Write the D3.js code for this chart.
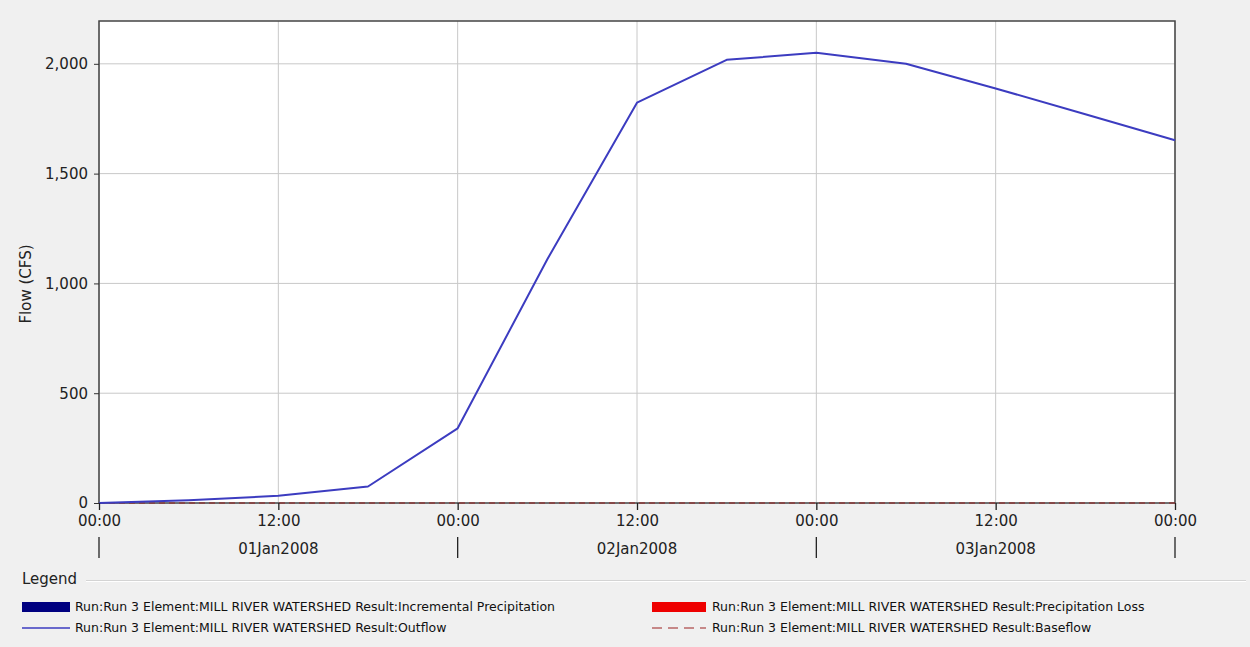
<!DOCTYPE html>
<html>
<head>
<meta charset="utf-8">
<script src="https://cdn.jsdelivr.net/npm/d3@7"></script>
<style>
  html, body { margin: 0; padding: 0; background: #f0f0f0; }
  svg { display: block; }
</style>
</head>
<body>
<svg id="chart" width="1250" height="647"></svg>
<script>
// ---- data ----
const timeStamps = [
  "2008-01-01T00:00", "2008-01-01T06:00", "2008-01-01T12:00", "2008-01-01T18:00",
  "2008-01-02T00:00", "2008-01-02T06:00", "2008-01-02T12:00", "2008-01-02T18:00",
  "2008-01-03T00:00", "2008-01-03T06:00", "2008-01-03T12:00", "2008-01-03T18:00",
  "2008-01-04T00:00"
];
const outflowCFS = [0, 12, 33, 75, 340, 1110, 1823, 2018, 2050, 2000, 1888, 1770, 1652];
const baseflowCFS = [0, 0, 0, 0, 0, 0, 0, 0, 0, 0, 0, 0, 0];
const yTickValues = [0, 500, 1000, 1500, 2000];
const dayLabels = ["01Jan2008", "02Jan2008", "03Jan2008"];
const legendItems = [
  "Run:Run 3 Element:MILL RIVER WATERSHED Result:Incremental Precipitation",
  "Run:Run 3 Element:MILL RIVER WATERSHED Result:Precipitation Loss",
  "Run:Run 3 Element:MILL RIVER WATERSHED Result:Outflow",
  "Run:Run 3 Element:MILL RIVER WATERSHED Result:Baseflow"
];
const yAxisTitle = "Flow (CFS)";

// ---- layout ----
const plot = { left: 99, right: 1175, top: 21, bottom: 503 };
const parse = d3.utcParse("%Y-%m-%dT%H:%M");
const times = timeStamps.map(parse);

const svg = d3.select("#chart");
const x = d3.scaleUtc()
  .domain([parse("2008-01-01T00:00"), parse("2008-01-04T00:00")])
  .range([plot.left, plot.right]);
const y = d3.scaleLinear().domain([0, 2195]).range([plot.bottom, plot.top]);

const font = "'DejaVu Sans', Verdana, sans-serif";

// plot background
svg.append("rect")
  .attr("x", plot.left).attr("y", plot.top)
  .attr("width", plot.right - plot.left).attr("height", plot.bottom - plot.top)
  .attr("fill", "#ffffff");

// grid
const xGridTicks = d3.utcHour.every(12).range(x.domain()[0], d3.utcHour.offset(x.domain()[1], 1));
svg.append("g").selectAll("line").data(xGridTicks).join("line")
  .attr("x1", d => x(d)).attr("x2", d => x(d))
  .attr("y1", plot.top).attr("y2", plot.bottom)
  .attr("stroke", "#c8c8c8").attr("stroke-width", 1);
svg.append("g").selectAll("line").data(yTickValues.filter(v => v > 0)).join("line")
  .attr("x1", plot.left).attr("x2", plot.right)
  .attr("y1", d => y(d)).attr("y2", d => y(d))
  .attr("stroke", "#c8c8c8").attr("stroke-width", 1);

// frame
svg.append("rect")
  .attr("x", plot.left).attr("y", plot.top)
  .attr("width", plot.right - plot.left).attr("height", plot.bottom - plot.top)
  .attr("fill", "none").attr("stroke", "#444").attr("stroke-width", 1.5);

// series
const line = d3.line().x((d, i) => x(times[i])).y(d => y(d));
svg.append("path").datum(baseflowCFS)
  .attr("d", line).attr("fill", "none")
  .attr("stroke", "#9b2020").attr("stroke-width", 1.2).attr("stroke-dasharray", "6,4");
svg.append("path").datum(outflowCFS)
  .attr("d", line).attr("fill", "none")
  .attr("stroke", "#3c3cc0").attr("stroke-width", 2).attr("stroke-linejoin", "round");

// y axis
const yAxis = d3.axisLeft(y).tickValues(yTickValues).tickFormat(d3.format(",")).tickSize(5).tickPadding(6);
const gy = svg.append("g").attr("transform", `translate(${plot.left},0)`).call(yAxis);
gy.select(".domain").remove();
gy.selectAll(".tick line").attr("stroke", "#333");
gy.selectAll("text").attr("font-family", font).attr("font-size", 15).attr("fill", "#222");

svg.append("text")
  .attr("transform", `translate(31,${(plot.top + plot.bottom) / 2 + 22}) rotate(-90)`)
  .attr("text-anchor", "middle")
  .attr("font-family", font).attr("font-size", 15).attr("fill", "#222")
  .text(yAxisTitle);

// x axis
const xAxis = d3.axisBottom(x).tickValues(xGridTicks).tickFormat(d3.utcFormat("%H:%M")).tickSize(7).tickPadding(5);
const gx = svg.append("g").attr("transform", `translate(0,${plot.bottom})`).call(xAxis);
gx.select(".domain").remove();
gx.selectAll(".tick line").attr("stroke", "#222").attr("stroke-width", 1.3);
gx.selectAll("text").attr("font-family", font).attr("font-size", 15).attr("fill", "#222");

// day separators and labels
const midnights = d3.utcDay.range(x.domain()[0], d3.utcHour.offset(x.domain()[1], 1));
svg.append("g").selectAll("line").data(midnights).join("line")
  .attr("x1", d => x(d)).attr("x2", d => x(d))
  .attr("y1", 537).attr("y2", 558)
  .attr("stroke", "#222").attr("stroke-width", 1.3);
svg.append("g").selectAll("text").data(dayLabels).join("text")
  .attr("x", (d, i) => x(d3.utcHour.offset(midnights[i], 12)))
  .attr("y", 554)
  .attr("text-anchor", "middle")
  .attr("font-family", font).attr("font-size", 15).attr("fill", "#222")
  .text(d => d);

// legend
const lg = svg.append("g");
lg.append("line").attr("x1", 86).attr("x2", 1246).attr("y1", 580.5).attr("y2", 580.5)
  .attr("stroke", "#d4d4d4");
lg.append("line").attr("x1", 86).attr("x2", 1246).attr("y1", 581.5).attr("y2", 581.5)
  .attr("stroke", "#ffffff");
lg.append("text").attr("x", 22).attr("y", 584)
  .attr("font-family", font).attr("font-size", 15).attr("fill", "#222").text("Legend");

const rowY = [607, 628];
const cols = [{ x: 22, w: 48, gap: 53 }, { x: 652, w: 54, gap: 60 }];
const legendSpec = [
  { col: 0, row: 0, kind: "rect", color: "#000080" },
  { col: 1, row: 0, kind: "rect", color: "#ee0000" },
  { col: 0, row: 1, kind: "line", color: "#3c3cc0" },
  { col: 1, row: 1, kind: "dash", color: "#9b2020" }
];
legendSpec.forEach((s, i) => {
  const c = cols[s.col], x0 = c.x, yc = rowY[s.row];
  if (s.kind === "rect") {
    lg.append("rect").attr("x", x0).attr("y", yc - 5).attr("width", c.w).attr("height", 10).attr("fill", s.color);
  } else {
    lg.append("line").attr("x1", x0).attr("x2", x0 + c.w).attr("y1", yc).attr("y2", yc)
      .attr("stroke", s.color).attr("stroke-width", s.kind === "line" ? 1.3 : 1.2)
      .attr("stroke-dasharray", s.kind === "dash" ? "10,6" : null);
  }
  lg.append("text").attr("x", x0 + c.gap).attr("y", yc + 4)
    .attr("font-family", font).attr("font-size", 12.5).attr("fill", "#111")
    .text(legendItems[i]);
});
</script>
</body>
</html>
